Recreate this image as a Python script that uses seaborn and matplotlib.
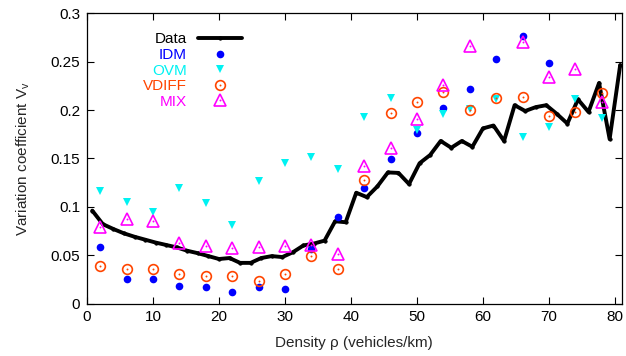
import numpy as np
import pandas as pd
import seaborn as sns
import matplotlib.pyplot as plt
from matplotlib.ticker import FuncFormatter

# measured variation coefficient (black line)
data_density = [0.8, 2.4, 4.0, 5.6, 7.2, 8.8, 10.4, 12.0, 13.6, 15.2,
                16.8, 18.4, 20.0, 21.6, 23.2, 24.8, 26.4, 28.0, 29.6, 31.2,
                32.8, 34.4, 36.0, 37.6, 39.2, 40.8, 42.4, 44.0, 45.6, 47.2,
                48.8, 50.4, 52.0, 53.6, 55.2, 56.8, 58.4, 60.0, 61.6, 63.2,
                64.8, 66.4, 68.0, 69.6, 71.2, 72.8, 74.4, 76.0, 77.6, 79.2, 80.8]
data_vv = [0.096, 0.082, 0.077, 0.0725, 0.069, 0.066, 0.063, 0.0605, 0.058, 0.0545,
           0.052, 0.049, 0.046, 0.047, 0.042, 0.042, 0.047, 0.049, 0.048, 0.053,
           0.060, 0.062, 0.065, 0.085, 0.084, 0.1145, 0.110, 0.121, 0.1355, 0.135,
           0.1235, 0.145, 0.1535, 0.168, 0.161, 0.168, 0.162, 0.181, 0.184, 0.168,
           0.205, 0.199, 0.203, 0.205, 0.196, 0.186, 0.211, 0.198, 0.228, 0.170, 0.2465]

# model densities
model_density = [2, 6, 10, 14, 18, 22, 26, 30, 34, 38,
                 42, 46, 50, 54, 58, 62, 66, 70, 74, 78]

idm = [0.0587, 0.025, 0.025, 0.0184, 0.0171, 0.0122, 0.0168, 0.0147, 0.056, 0.0894,
       0.119, 0.1497, 0.176, 0.2024, 0.2214, 0.2524, 0.2768, 0.249, np.nan, np.nan]
ovm = [0.1166, 0.1046, 0.095, 0.119, 0.104, 0.081, 0.1266, 0.1455, 0.1517, 0.1387,
       0.1925, 0.2124, 0.179, 0.1956, 0.2007, 0.2117, 0.1718, 0.182, 0.2114, 0.192]
vdiff = [0.039, 0.0357, 0.0357, 0.0302, 0.0288, 0.0284, 0.0236, 0.0305, 0.0494, 0.0357,
         0.1273, 0.1972, 0.2086, 0.2183, 0.2, 0.2121, 0.2138, 0.1941, 0.1976, 0.2173]
mix = [0.0794, 0.0873, 0.0856, 0.0622, 0.0594, 0.0577, 0.0587, 0.0594, 0.0605, 0.0512,
       0.1425, 0.161, 0.1907, 0.2259, 0.2665, np.nan, 0.27, 0.2344, 0.2424, 0.2086]


def main():
    sns.set_style("ticks")
    plt.rcParams['font.family'] = ['Liberation Sans', 'DejaVu Sans']
    plt.rcParams['mathtext.fontset'] = 'custom'
    plt.rcParams['mathtext.rm'] = 'Liberation Sans'

    df_data = pd.DataFrame({'density': data_density, 'vv': data_vv})
    df_model = pd.DataFrame({'density': model_density, 'IDM': idm, 'OVM': ovm,
                             'VDIFF': vdiff, 'MIX': mix})

    fig = plt.figure(figsize=(6.26, 3.56), dpi=100)
    ax = fig.add_axes([87 / 626, 1 - 303.5 / 356, 534.5 / 626, 290.2 / 356])

    sns.lineplot(data=df_data, x='density', y='vv', ax=ax, color='black',
                 linewidth=2.8, marker='o', markersize=2.5,
                 markeredgecolor='black', markeredgewidth=0.5, label='Data')

    blue = '#0000ff'
    cyan = '#00f2f2'
    orange = '#ff4500'
    magenta = '#ff00ff'
    sns.lineplot(data=df_model, x='density', y='IDM', ax=ax, color=blue,
                 linestyle='', marker='o', markersize=5.5,
                 markeredgecolor=blue, markeredgewidth=0, label='IDM')
    sns.lineplot(data=df_model, x='density', y='OVM', ax=ax, color=cyan,
                 linestyle='', marker='v', markersize=5.5,
                 markeredgecolor=cyan, markeredgewidth=0, label='OVM')
    sns.lineplot(data=df_model, x='density', y='VDIFF', ax=ax, color=orange,
                 linestyle='', marker='o', markersize=7, markerfacecolor='none',
                 markeredgecolor=orange, markeredgewidth=1.2, label='VDIFF')
    sns.lineplot(data=df_model, x='density', y='VDIFF', ax=ax, color=orange,
                 linestyle='', marker='o', markersize=1.4,
                 markeredgecolor=orange, markeredgewidth=0)
    sns.lineplot(data=df_model, x='density', y='MIX', ax=ax, color=magenta,
                 linestyle='', marker='^', markersize=8, markerfacecolor='none',
                 markeredgecolor=magenta, markeredgewidth=1.2, label='MIX')
    sns.lineplot(data=df_model, x='density', y='MIX', ax=ax, color=magenta,
                 linestyle='', marker='o', markersize=1.4,
                 markeredgecolor=magenta, markeredgewidth=0)

    lines = ax.get_lines()
    handles = [lines[0], lines[1], lines[2], (lines[3], lines[4]), (lines[5], lines[6])]
    labels = ['Data', 'IDM', 'OVM', 'VDIFF', 'MIX']
    leg = ax.legend(handles, labels, loc='upper left', bbox_to_anchor=(0.105, 0.934),
                    frameon=False, markerfirst=False, fontsize=11,
                    handlelength=2.9, handletextpad=0.7, labelspacing=0.1,
                    borderpad=0, borderaxespad=0)
    for txt, col in zip(leg.get_texts(), ['black', blue, cyan, orange, magenta]):
        txt.set_color(col)

    ax.set_xlim(0, 81)
    ax.set_ylim(0, 0.3)
    ax.set_xticks([0, 10, 20, 30, 40, 50, 60, 70, 80])
    ax.set_yticks([0, 0.05, 0.1, 0.15, 0.2, 0.25, 0.3])
    ax.yaxis.set_major_formatter(FuncFormatter(lambda v, p: f'{v:g}'))
    ax.tick_params(direction='in', top=True, right=True, length=5, width=0.8,
                   labelsize=11, colors='black', pad=5)
    for s in ax.spines.values():
        s.set_visible(True)
        s.set_linewidth(0.9)
        s.set_color('black')

    ax.set_xlabel('Density ρ (vehicles/km)', fontsize=11, labelpad=8)
    ax.set_ylabel('Variation coefficient V$_\\mathregular{v}$', fontsize=11, labelpad=13)

    fig.savefig('out.png', dpi=100)
    plt.close(fig)


if __name__ == "__main__":
    main()
